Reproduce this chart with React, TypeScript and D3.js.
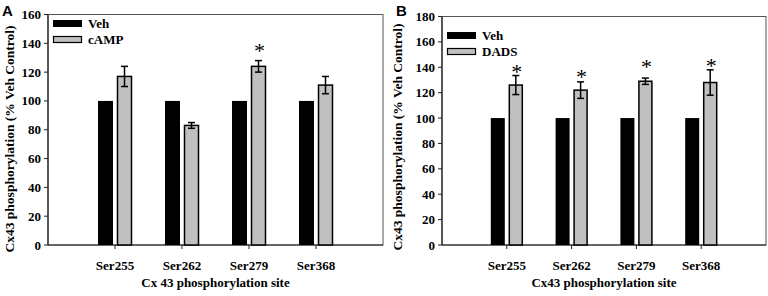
import React from "react";
import * as d3 from "d3";

const categories = ["Ser255", "Ser262", "Ser279", "Ser368"];
const vehA = [100, 100, 100, 100];
const campA = [117, 83, 124, 111];
const campErrA = [7, 2, 4, 6];
const starsA = [null, null, 137.5, null];
const yTicksA = [0, 20, 40, 60, 80, 100, 120, 140, 160];

const vehB = [100, 100, 100, 100];
const dadsB = [126, 122, 129, 128];
const dadsErrB = [7.5, 6.5, 2.5, 10];
const starsB = [139.5, 135.5, 143.5, 144];
const yTicksB = [0, 20, 40, 60, 80, 100, 120, 140, 160, 180];

const SERIF = "'Liberation Serif', 'Times New Roman', serif";

type PanelProps = {
  label: string;
  x0: number; x1: number; y0: number; y1: number;
  yMax: number; yTicks: number[];
  veh: number[]; treat: number[]; err: number[]; stars: (number | null)[];
  treatName: string; xTitle: string;
  labelX: number; titleX: number; titleY: number;
  legendY: number;
  barW: number;
};

function Panel(p: PanelProps) {
  const x = d3.scaleLinear().domain([0, categories.length + 1]).range([p.x0, p.x1]);
  const y = d3.scaleLinear().domain([0, p.yMax]).range([p.y1, p.y0]);
  const bw = p.barW;
  return (
    <g>
      <text x={p.labelX} y={16} fontFamily="'Liberation Sans', Arial, sans-serif" fontWeight="bold" fontSize={15}>{p.label}</text>
      <rect x={p.x0} y={p.y0} width={p.x1 - p.x0} height={p.y1 - p.y0} fill="none" stroke="#555" strokeWidth={1} />
      <line x1={p.x0} x2={p.x0} y1={p.y0} y2={p.y1} stroke="#222" strokeWidth={1.2} />
      <line x1={p.x0} x2={p.x1} y1={p.y1} y2={p.y1} stroke="#222" strokeWidth={1.2} />
      {p.yTicks.map((t) => (
        <g key={t}>
          <line x1={p.x0 - 4} x2={p.x0} y1={y(t)} y2={y(t)} stroke="#222" strokeWidth={1} />
          <text x={p.x0 - 7} y={y(t)} dy="0.35em" textAnchor="end" fontFamily={SERIF} fontWeight="bold" fontSize={13}>{t}</text>
        </g>
      ))}
      {categories.map((c, i) => {
        const cx = x(i + 1);
        return (
          <g key={c}>
            <rect x={cx - bw - 2} y={y(p.veh[i])} width={bw} height={y(0) - y(p.veh[i])} fill="#000" />
            <rect x={cx + 2.5} y={y(p.treat[i])} width={bw - 1} height={y(0) - y(p.treat[i])} fill="#c0c0c0" stroke="#000" strokeWidth={1.5} />
            <line x1={cx + 2 + bw / 2} x2={cx + 2 + bw / 2} y1={y(p.treat[i] + p.err[i])} y2={y(p.treat[i] - p.err[i])} stroke="#000" strokeWidth={1.5} />
            <line x1={cx + 2 + bw / 2 - 3.5} x2={cx + 2 + bw / 2 + 3.5} y1={y(p.treat[i] + p.err[i])} y2={y(p.treat[i] + p.err[i])} stroke="#000" strokeWidth={1.5} />
            <line x1={cx + 2 + bw / 2 - 3.5} x2={cx + 2 + bw / 2 + 3.5} y1={y(p.treat[i] - p.err[i])} y2={y(p.treat[i] - p.err[i])} stroke="#000" strokeWidth={1.5} />
            <line x1={cx} x2={cx} y1={p.y1} y2={p.y1 + 4} stroke="#222" strokeWidth={1} />
            <text x={cx} y={p.y1 + 25} textAnchor="middle" fontFamily={SERIF} fontWeight="bold" fontSize={13}>{c}</text>
            {p.stars[i] != null && (
              <text x={cx + 3 + bw / 2} y={y(p.stars[i] as number)} dy="0.5em" textAnchor="middle" fontFamily={SERIF} fontSize={22}>*</text>
            )}
          </g>
        );
      })}
      <text x={(p.x0 + p.x1) / 2} y={p.y1 + 42} textAnchor="middle" fontFamily={SERIF} fontWeight="bold" fontSize={13}>{p.xTitle}</text>
      <text transform={`translate(${p.titleX},${p.titleY}) rotate(-90)`} textAnchor="middle" fontFamily={SERIF} fontWeight="bold" fontSize={13.5}>Cx43 phosphorylation (% Veh Control)</text>
      <rect x={p.x0 + 5} y={p.legendY} width={29} height={7} fill="#000" />
      <text x={p.x0 + 40} y={p.legendY + 3.5} dy="0.35em" fontFamily={SERIF} fontWeight="bold" fontSize={13}>Veh</text>
      <rect x={p.x0 + 5.5} y={p.legendY + 16.5} width={28} height={6} fill="#c0c0c0" stroke="#000" strokeWidth={1.2} />
      <text x={p.x0 + 40} y={p.legendY + 19.5} dy="0.35em" fontFamily={SERIF} fontWeight="bold" fontSize={13}>{p.treatName}</text>
    </g>
  );
}

export default function App() {
  return (
    <svg width={768} height={296} style={{ position: "absolute", left: 0, top: 0, background: "#fff" }}>
      <Panel label="A" x0={48} x1={383} y0={14.5} y1={245} yMax={160} yTicks={yTicksA}
        veh={vehA} treat={campA} err={campErrA} stars={starsA} treatName="cAMP" xTitle="Cx 43 phosphorylation site"
        labelX={2} titleX={14} titleY={139} legendY={20} barW={15} />
      <Panel label="B" x0={442} x1={766} y0={16.5} y1={245} yMax={180} yTicks={yTicksB}
        veh={vehB} treat={dadsB} err={dadsErrB} stars={starsB} treatName="DADS" xTitle="Cx43 phosphorylation site"
        labelX={396} titleX={402} titleY={137} legendY={32} barW={14} />
    </svg>
  );
}
